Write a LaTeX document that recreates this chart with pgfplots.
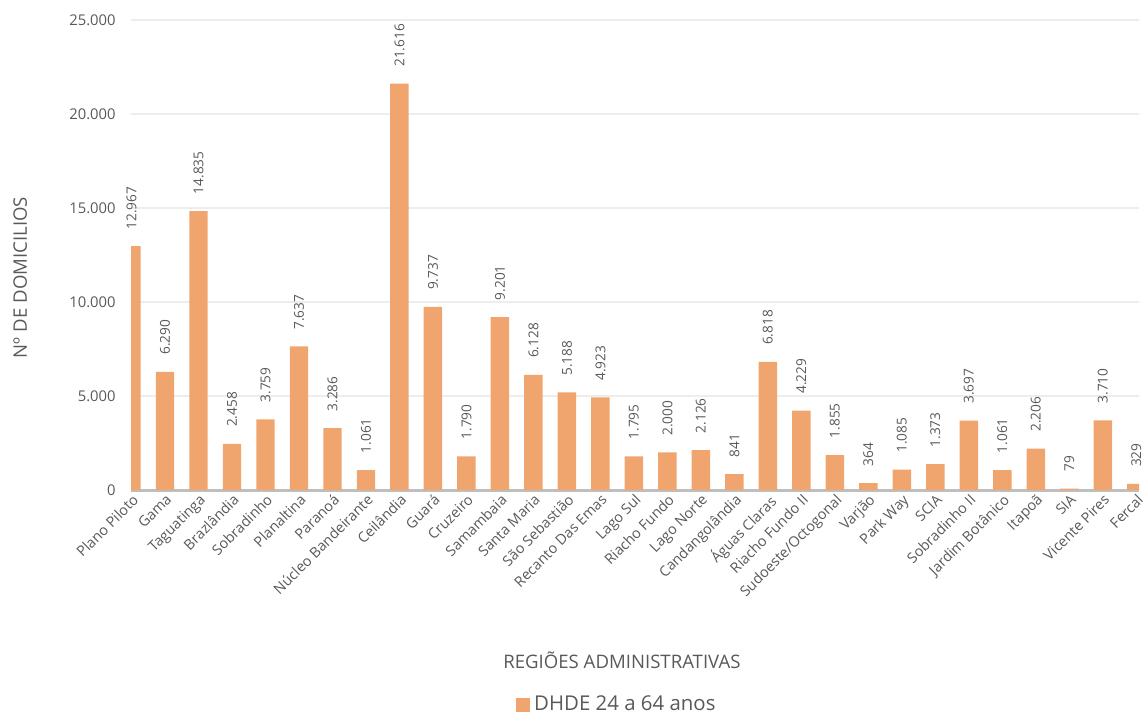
\documentclass[border=0pt]{standalone}
\usepackage{fontspec}
\setmainfont{Open Sans}
\usepackage{pgfplots}
\usepackage{pgfplotstable}
\pgfplotsset{compat=1.18}
\definecolor{barc}{HTML}{F0A56E}
\definecolor{txt}{HTML}{595959}
\definecolor{gridc}{HTML}{EDEDED}
\definecolor{axc}{HTML}{BFBFBF}
\pgfkeys{/pgf/number format/.cd,1000 sep={.},assume math mode=true}
\pgfplotstableread{
idx val
0 12967
1 6290
2 14835
3 2458
4 3759
5 7637
6 3286
7 1061
8 21616
9 9737
10 1790
11 9201
12 6128
13 5188
14 4923
15 1795
16 2000
17 2126
18 841
19 6818
20 4229
21 1855
22 364
23 1085
24 1373
25 3697
26 1061
27 2206
28 79
29 3710
30 329
}\datatable
\begin{document}
\begin{tikzpicture}
\useasboundingbox (0,0) rectangle (572pt,356.5pt);
\begin{axis}[
  at={(65.5pt,111.5pt)}, anchor=south west,
  scale only axis, width=504pt, height=235pt,
  xmin=-0.015, xmax=30.08, ymin=0, ymax=25000,
  ybar, bar width=0.55,
  axis x line*=bottom, axis y line*=left,
  y axis line style={draw=none},
  x axis line style={-, draw=axc, line width=1.5pt},
  major tick length=0pt,
  ytick={0,5000,10000,15000,20000,25000},
  ymajorgrids, grid style={draw=gridc, line width=1pt},
  scaled y ticks=false,
  yticklabel style={font=\fontsize{7.4}{8}\selectfont, text=txt, anchor=east, inner sep=0pt, xshift=-7.5pt},
  xtick={0,...,30},
  xticklabels={Plano Piloto,Gama,Taguatinga,Brazlândia,Sobradinho,Planaltina,Paranoá,Núcleo Bandeirante,Ceilândia,Guará,Cruzeiro,Samambaia,Santa Maria,São Sebastião,Recanto Das Emas,Lago Sul,Riacho Fundo,Lago Norte,Candangolândia,Águas Claras,Riacho Fundo II,Sudoeste/Octogonal,Varjão,Park Way,SCIA,Sobradinho II,Jardim Botânico,Itapoã,SIA,Vicente Pires,Fercal},
  xticklabel style={rotate=45, anchor=north east, font=\fontsize{7.2}{8}\selectfont, text=txt, inner sep=1pt},
  nodes near coords,
  every node near coord/.append style={rotate=90, anchor=west, font=\fontsize{6.8}{7}\selectfont, text=txt, inner xsep=8.5pt, inner ysep=0pt, outer sep=0pt},
  xlabel={REGIÕES ADMINISTRATIVAS},
  ylabel={Nº DE DOMICILIOS},
  xlabel style={font=\fontsize{9.3}{10}\selectfont, text=txt, at={(axis description cs:0.487,-0.362)}, anchor=center},
  ylabel style={font=\fontsize{9.3}{10}\selectfont, text=txt, at={(axis description cs:-0.110,0.452)}, anchor=center, rotate=0},
  legend style={at={(axis description cs:0.483,-0.457)}, anchor=center, draw=none, fill=none, font=\fontsize{10.2}{11}\selectfont, text=txt, inner sep=0pt},
  legend image code/.code={\fill[barc] (0pt,-3.5pt) rectangle (7pt,3.5pt);},
]
\addplot[fill=barc, draw=none] table[x=idx, y=val] {\datatable};
\addlegendentry{DHDE 24 a 64 anos}
\end{axis}
\end{tikzpicture}
\end{document}
